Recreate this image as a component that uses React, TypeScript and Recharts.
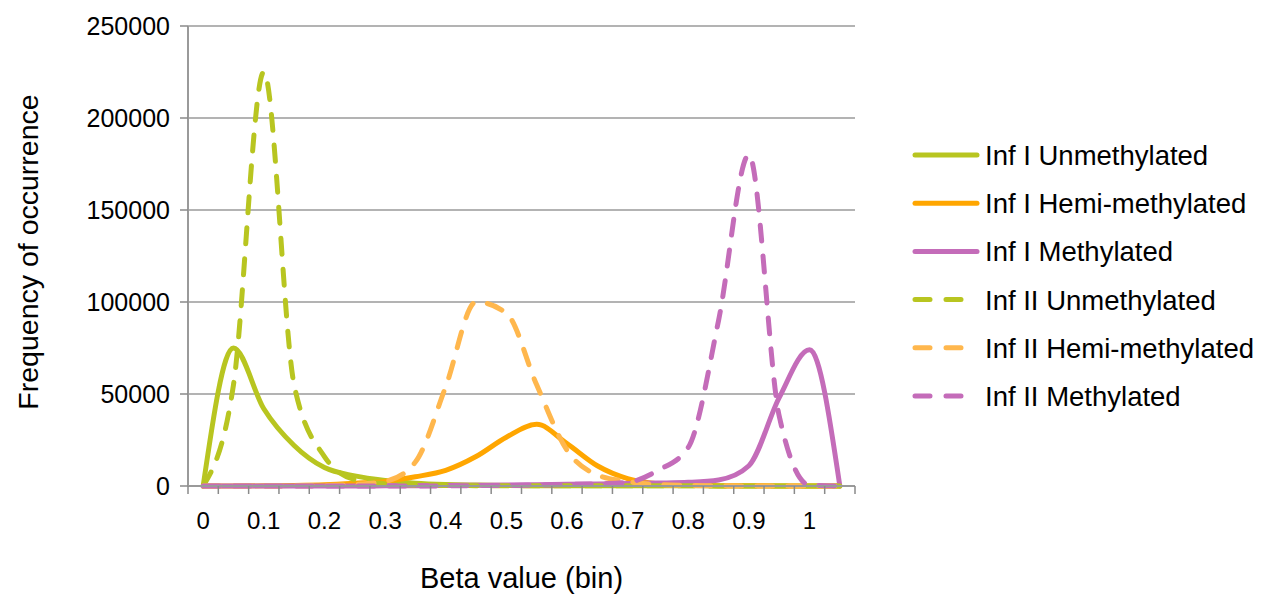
import React from 'react';
import { LineChart, Line, XAxis, YAxis, CartesianGrid, Legend } from 'recharts';

// Beta value bins (category centres)
const betaBins = [0, 0.05, 0.1, 0.15, 0.2, 0.25, 0.3, 0.35, 0.4, 0.45, 0.5, 0.55, 0.6, 0.65, 0.7, 0.75, 0.8, 0.85, 0.9, 0.95, 1, 1.05];

const inf1Unmethylated = [0, 75000, 42000, 22000, 10000, 5500, 3000, 1500, 800, 500, 300, 200, 200, 150, 100, 100, 100, 50, 50, 0, 0, 0];
const inf1HemiMethylated = [0, 0, 100, 300, 700, 1500, 2500, 5000, 8500, 16000, 26500, 33500, 23000, 11000, 4000, 1200, 400, 200, 100, 50, 0, 0];
const inf1Methylated = [0, 0, 0, 0, 0, 0, 100, 200, 300, 400, 500, 700, 900, 1100, 1300, 1600, 2000, 3300, 11000, 48000, 74000, 0];
const inf2Unmethylated = [0, 55000, 225000, 55000, 16000, 3500, 1200, 600, 300, 200, 100, 100, 100, 100, 100, 100, 100, 50, 50, 0, 0, 0];
const inf2HemiMethylated = [0, 0, 0, 100, 300, 800, 2500, 13000, 54000, 100000, 94000, 55000, 19500, 6000, 2500, 800, 300, 100, 50, 0, 0, 0];
const inf2Methylated = [0, 0, 0, 0, 0, 0, 0, 0, 100, 200, 300, 500, 800, 1200, 2000, 8500, 21000, 90000, 180000, 38000, 500, 0];

const seriesNames = [
  'Inf I Unmethylated',
  'Inf I Hemi-methylated',
  'Inf I Methylated',
  'Inf II Unmethylated',
  'Inf II Hemi-methylated',
  'Inf II Methylated',
];
const seriesColors = ['#B8C520', '#FFA600', '#C46CB9', '#B8C520', '#FFB74D', '#C46CB9'];
const seriesDashed = [false, false, false, true, true, true];
const seriesValues = [inf1Unmethylated, inf1HemiMethylated, inf1Methylated, inf2Unmethylated, inf2HemiMethylated, inf2Methylated];

// labelled ticks (bin centres) and unlabelled tick marks (bin boundaries)
const xTickLabels = [0, 0.1, 0.2, 0.3, 0.4, 0.5, 0.6, 0.7, 0.8, 0.9, 1];
const xTickMarks = [-0.025, 0.025, 0.075, 0.125, 0.175, 0.225, 0.275, 0.325, 0.375, 0.425, 0.475, 0.525, 0.575, 0.625, 0.675, 0.725, 0.775, 0.825, 0.875, 0.925, 0.975, 1.025, 1.075];
const xDomain = [-0.025, 1.075];
const yTicks = [0, 50000, 100000, 150000, 200000, 250000];

const allXTicks = [...xTickMarks, ...xTickLabels].sort((a, b) => a - b);
const markSet = new Set(xTickMarks);

const data = betaBins.map((b, i) => {
  const row: Record<string, number> = { beta: b };
  seriesValues.forEach((vals, s) => {
    row['s' + s] = vals[i];
  });
  return row;
});

const FONT = '"Liberation Sans", Arial, Helvetica, sans-serif';
const DASH = '16 15';
const LEGEND_W = 362;
const X_TICK_SIZE = 8;
const X_TICK_MARGIN = 18;

const LegendContent = () => (
  <svg width={LEGEND_W} height={290} style={{ display: 'block', overflow: 'visible' }}>
    {seriesNames.map((name, i) => {
      const y = 25 + i * 48.2;
      return (
        <g key={name}>
          <line
            x1={10}
            x2={72}
            y1={y}
            y2={y}
            stroke={seriesColors[i]}
            strokeWidth={5}
            strokeLinecap="round"
            strokeDasharray={seriesDashed[i] ? '15 16' : undefined}
          />
          <text x={80} y={y} dy="0.36em" fontSize={27.5} fontFamily={FONT} fill="#000">
            {name}
          </text>
        </g>
      );
    })}
  </svg>
);

const YTitle = (props: any) => {
  const vb = props.viewBox || { x: 0, y: 0, height: 0 };
  const cx = vb.x + 38;
  const cy = vb.y + vb.height / 2 - 4;
  return (
    <text
      x={cx}
      y={cy}
      textAnchor="middle"
      transform={`rotate(-90 ${cx} ${cy})`}
      fontSize={28.5}
      fontFamily={FONT}
      fill="#000"
    >
      Frequency of occurrence
    </text>
  );
};

const XTick = (props: any) => {
  const { x, y, payload } = props;
  const v = payload.value as number;
  if (markSet.has(v)) {
    const y0 = y - X_TICK_SIZE - X_TICK_MARGIN;
    return <line x1={x} x2={x} y1={y0} y2={y0 + X_TICK_SIZE} stroke="#8a8a8a" strokeWidth={1.5} />;
  }
  return (
    <text x={x} y={y} dy="0.71em" textAnchor="middle" fontSize={24} fontFamily={FONT} fill="#000">
      {String(Math.round(v * 10) / 10)}
    </text>
  );
};

export default function App() {
  return (
    <div style={{ position: 'absolute', left: 0, top: 0, width: 1268, height: 599, background: '#fff' }}>
      <LineChart
        width={1268}
        height={599}
        data={data}
        margin={{ top: 26, right: 413 - LEGEND_W, bottom: 0, left: 0 }}
        style={{ fontFamily: FONT }}
      >
        <CartesianGrid vertical={false} stroke="#9a9a9a" strokeWidth={1.5} />
        <XAxis
          type="number"
          dataKey="beta"
          domain={xDomain}
          ticks={allXTicks}
          allowDataOverflow
          interval={0}
          axisLine={{ stroke: '#9a9a9a', strokeWidth: 2 }}
          tickLine={false}
          tickSize={X_TICK_SIZE}
          tickMargin={X_TICK_MARGIN}
          height={113}
          tick={XTick}
          label={{ value: 'Beta value (bin)', position: 'insideBottom', offset: 11, fontSize: 29, fill: '#000', fontFamily: FONT }}
        />
        <YAxis
          type="number"
          domain={[0, 250000]}
          ticks={yTicks}
          interval={0}
          width={188}
          tickSize={8}
          tickMargin={10}
          tickLine={{ stroke: '#8a8a8a', strokeWidth: 1.5 }}
          axisLine={{ stroke: '#9a9a9a', strokeWidth: 2 }}
          tick={{ fontSize: 25, fill: '#000', fontFamily: FONT }}
          label={{ content: YTitle }}
        />
        <Legend
          layout="vertical"
          align="right"
          verticalAlign="top"
          content={LegendContent}
          wrapperStyle={{ left: 905, top: 130, width: LEGEND_W, right: undefined }}
        />
        {seriesNames.map((name, i) => (
          <Line
            key={name}
            type="monotone"
            dataKey={'s' + i}
            name={name}
            stroke={seriesColors[i]}
            strokeWidth={5}
            strokeLinecap="round"
            strokeLinejoin="round"
            strokeDasharray={seriesDashed[i] ? DASH : undefined}
            dot={false}
            activeDot={false}
            isAnimationActive={false}
          />
        ))}
      </LineChart>
    </div>
  );
}
